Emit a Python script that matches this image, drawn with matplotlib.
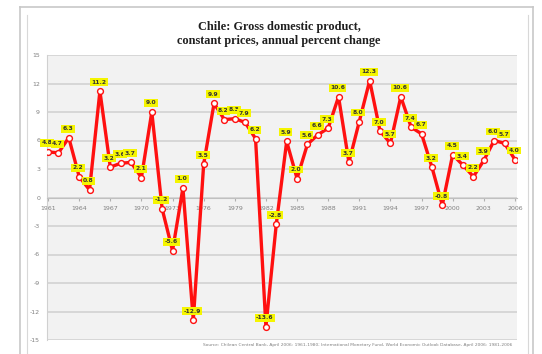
import matplotlib.pyplot as plt
from matplotlib.lines import Line2D

years = list(range(1961, 2007))
growth = [4.8, 4.7, 6.3, 2.2, 0.8, 11.2, 3.2, 3.6, 3.7, 2.1,
          9.0, -1.2, -5.6, 1.0, -12.9, 3.5, 9.9, 8.2, 8.3, 7.9,
          6.2, -13.6, -2.8, 5.9, 2.0, 5.6, 6.6, 7.3, 10.6, 3.7,
          8.0, 12.3, 7.0, 5.7, 10.6, 7.4, 6.7, 3.2, -0.8, 4.5,
          3.4, 2.2, 3.9, 6.0, 5.7, 4.0]
year_ticks = list(range(1961, 2007, 3))
y_ticks = list(range(-15, 16, 3))

title = "Chile: Gross domestic product,\nconstant prices, annual percent change"
source = ("Source: Chilean Central Bank, April 2006: 1961-1980; International Monetary Fund, "
          "World Economic Outlook Database, April 2006: 1981-2006")

W, H = 542, 354
fig = plt.figure(figsize=(W / 100, H / 100), dpi=100)
fig.patch.set_facecolor('white')

def fx(x):
    return x / W

def fy(y):
    return 1 - y / H

# outer frame and chart object border
frame = '#c8c8c8'
fig.add_artist(Line2D([fx(20), fx(533)], [fy(7), fy(7)], color=frame, lw=1.2))
fig.add_artist(Line2D([fx(20), fx(20)], [fy(7), fy(354)], color=frame, lw=1.2))
fig.add_artist(Line2D([fx(533), fx(533)], [fy(7), fy(354)], color=frame, lw=1.2))
fig.add_artist(Line2D([fx(27), fx(27)], [fy(15), fy(354)], color='#d8d8d8', lw=0.8))
fig.add_artist(Line2D([fx(528), fx(528)], [fy(15), fy(354)], color='#d8d8d8', lw=0.8))

ax = fig.add_axes([fx(47), fy(340), fx(517) - fx(47), fy(55) - fy(340)])
ax.set_facecolor('#f2f2f2')

ax.plot(years, growth, color='#ff1010', lw=2.4, zorder=3,
        marker='o', markersize=4.2, markerfacecolor='white',
        markeredgecolor='#ff1010', markeredgewidth=1.0)

for x, v in zip(years, growth):
    ax.annotate(f"{v:.1f}", (x, v), xytext=(-1, 9), textcoords='offset pixels',
                ha='center', va='center', fontsize=4.3, fontweight='bold',
                color='#333333', zorder=5,
                bbox=dict(boxstyle='square,pad=0.25', fc='#f5f500', ec='none'))

ax.set_xlim(1960.9, 2006.2)
ax.set_ylim(-15, 15)
ax.set_yticks(y_ticks)
ax.set_yticklabels([str(t) for t in y_ticks])
ax.set_xticks(year_ticks)
ax.set_xticklabels([str(t) for t in year_ticks])

ax.grid(axis='y', color='#d0d0d0', lw=1.1)
ax.set_axisbelow(True)

for s in ['top', 'right']:
    ax.spines[s].set_visible(False)
ax.spines['left'].set_color('#d0d0d0')
ax.spines['bottom'].set_position(('data', 0))
ax.spines['bottom'].set_color('#c0c0c0')

ax.tick_params(axis='y', length=0, labelsize=4.5, labelcolor='#808080', pad=5)
ax.tick_params(axis='x', length=2, color='#b0b0b0', labelsize=4.5,
               labelcolor='#808080', pad=4)

fig.text(fx(279), fy(34), title, ha='center', va='center', fontsize=8.8,
         fontweight='bold', family='Liberation Serif', color='#202020',
         linespacing=1.2)

fig.text(fx(512), fy(345), source, ha='right', va='center', fontsize=3.2,
         color='#808080')

fig.savefig('out.png', dpi=100)
